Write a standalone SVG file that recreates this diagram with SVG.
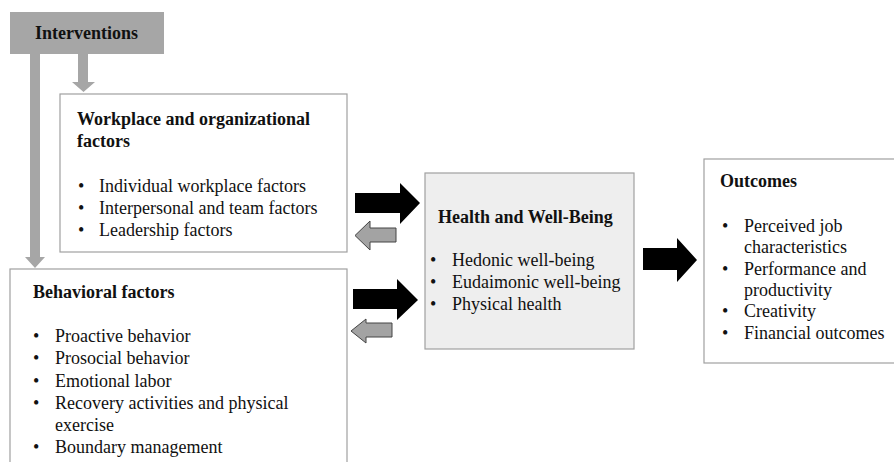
<svg xmlns="http://www.w3.org/2000/svg" width="894" height="462" viewBox="0 0 894 462">
<style>
text{font-family:"Liberation Serif","Times New Roman",serif;font-size:18px;fill:#111}
.b{font-weight:bold}
.box{fill:#fff;stroke:#a0a0a0;stroke-width:1.2}
.hb{fill:#eeeeee;stroke:#a0a0a0;stroke-width:1.2}
.blk{fill:#000}
.gry{fill:#a3a3a3;stroke:#444;stroke-width:1}
.int{fill:#a6a6a6}
</style>
<rect width="894" height="462" fill="#fff"/>
<g id="interventions">
<rect class="int" x="10" y="12" width="154" height="42"/>
<text class="b" x="35" y="39">Interventions</text>
</g>
<g id="workplace">
<rect class="box" x="60" y="94" width="287" height="158"/>
<text class="b" x="77" y="125">Workplace and organizational</text>
<text class="b" x="77" y="147">factors</text>
<text x="78" y="192">•</text><text x="99" y="192">Individual workplace factors</text>
<text x="78" y="214">•</text><text x="99" y="214">Interpersonal and team factors</text>
<text x="78" y="236">•</text><text x="99" y="236">Leadership factors</text>
</g>
<g id="behavioral">
<rect class="box" x="10" y="269" width="337" height="210"/>
<text class="b" x="33" y="298">Behavioral factors</text>
<text x="33" y="342">•</text><text x="55" y="342">Proactive behavior</text>
<text x="33" y="364">•</text><text x="55" y="364">Prosocial behavior</text>
<text x="33" y="387">•</text><text x="55" y="387">Emotional labor</text>
<text x="33" y="409">•</text><text x="55" y="409">Recovery activities and physical</text>
<text x="55" y="431">exercise</text>
<text x="33" y="453">•</text><text x="55" y="453">Boundary management</text>
</g>
<g id="health">
<rect class="hb" x="425" y="173" width="209" height="176"/>
<text class="b" x="438" y="223">Health and Well-Being</text>
<text x="430" y="266">•</text><text x="452" y="266">Hedonic well-being</text>
<text x="430" y="288">•</text><text x="452" y="288">Eudaimonic well-being</text>
<text x="430" y="310">•</text><text x="452" y="310">Physical health</text>
</g>
<g id="outcomes">
<rect class="box" x="704" y="159" width="200" height="204"/>
<text class="b" x="720" y="187">Outcomes</text>
<text x="722" y="232">•</text><text x="744" y="232">Perceived job</text>
<text x="744" y="253">characteristics</text>
<text x="722" y="275">•</text><text x="744" y="275">Performance and</text>
<text x="744" y="296">productivity</text>
<text x="722" y="317">•</text><text x="744" y="317">Creativity</text>
<text x="722" y="339">•</text><text x="744" y="339">Financial outcomes</text>
</g>
<g id="connectors">
<polygon class="int" points="30,54 40,54 40,257 45,257 35,268 25,257 30,257"/>
<polygon class="int" points="78,54 88,54 88,82 95,82 83.5,92 72,82 78,82"/>
<polygon class="blk" points="355,193 400,193 400,183 420,203 400,224 400,213 355,213"/>
<polygon class="gry" points="396,228 370,228 370,221 355,235.5 370,250 370,242 396,242"/>
<polygon class="blk" points="353,289 397,289 397,279 418,300 397,320 397,309 353,309"/>
<polygon class="gry" points="392,323 366,323 366,319 351,331 366,343 366,337 392,337"/>
<polygon class="blk" points="643,248 677,248 677,238 697,260 677,282 677,270 643,270"/>
</g>
</svg>
